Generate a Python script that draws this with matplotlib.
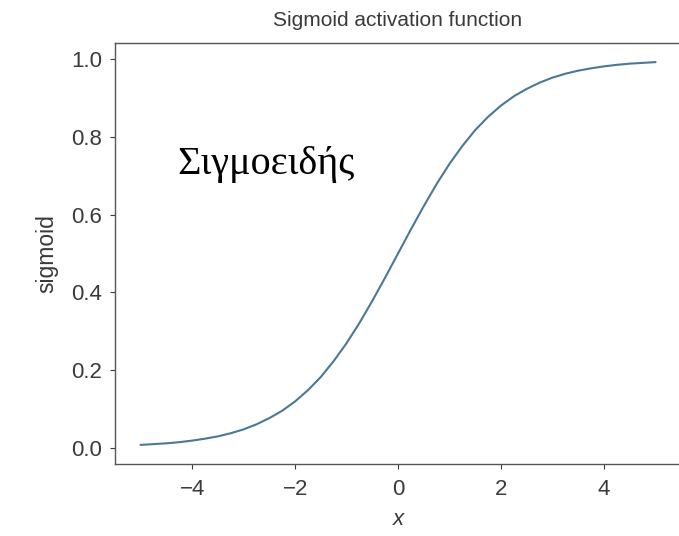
import matplotlib
matplotlib.use("Agg")
import matplotlib.pyplot as plt

# sampled points of the logistic curve
x_vals = [-5.0, -4.75, -4.5, -4.25, -4.0, -3.75, -3.5, -3.25, -3.0, -2.75,
          -2.5, -2.25, -2.0, -1.75, -1.5, -1.25, -1.0, -0.75, -0.5, -0.25,
          0.0, 0.25, 0.5, 0.75, 1.0, 1.25, 1.5, 1.75, 2.0, 2.25,
          2.5, 2.75, 3.0, 3.25, 3.5, 3.75, 4.0, 4.25, 4.5, 4.75, 5.0]
y_vals = [0.007, 0.009, 0.011, 0.014, 0.018, 0.023, 0.029, 0.037, 0.047, 0.060,
          0.076, 0.095, 0.119, 0.148, 0.182, 0.223, 0.269, 0.321, 0.378, 0.438,
          0.500, 0.562, 0.622, 0.679, 0.731, 0.777, 0.818, 0.852, 0.881, 0.905,
          0.924, 0.940, 0.953, 0.963, 0.971, 0.977, 0.982, 0.986, 0.989, 0.991, 0.993]

x_ticks = [-4, -2, 0, 2, 4]
y_ticks = [0.0, 0.2, 0.4, 0.6, 0.8, 1.0]

plt.rcParams['font.family'] = ['Liberation Sans', 'DejaVu Sans']
text_col = '#3a3a3a'

fig = plt.figure(figsize=(6.79, 5.36), dpi=100)
ax = fig.add_axes([0.1694, 0.1343, 0.8336, 0.7855])

ax.plot(x_vals, y_vals, color='#4a7896', linewidth=1.5)

ax.set_xticks(x_ticks)
ax.set_xticklabels([f"{t}".replace('-', '\u2212') for t in x_ticks])
ax.set_yticks(y_ticks)
ax.set_yticklabels([f"{t:.1f}" for t in y_ticks])
ax.tick_params(labelsize=16, colors=text_col, length=3.5, width=0.8)
ax.tick_params(axis='x', pad=7)
ax.tick_params(axis='y', pad=6)
for s in ax.spines.values():
    s.set_color('#555555')
    s.set_linewidth(1.0)

ax.set_title("Sigmoid activation function", fontsize=15, color=text_col, pad=12)
ax.set_ylabel("sigmoid", fontsize=16.5, color=text_col, labelpad=9)
ax.set_xlabel("x", fontsize=16, color=text_col, style='italic', labelpad=7)

ax.text(-4.28, 0.704, "Σιγμοειδής", family=['Liberation Serif', 'DejaVu Serif'],
        fontsize=29, color='black', va='baseline', ha='left')

fig.savefig("out.png", dpi=100)
